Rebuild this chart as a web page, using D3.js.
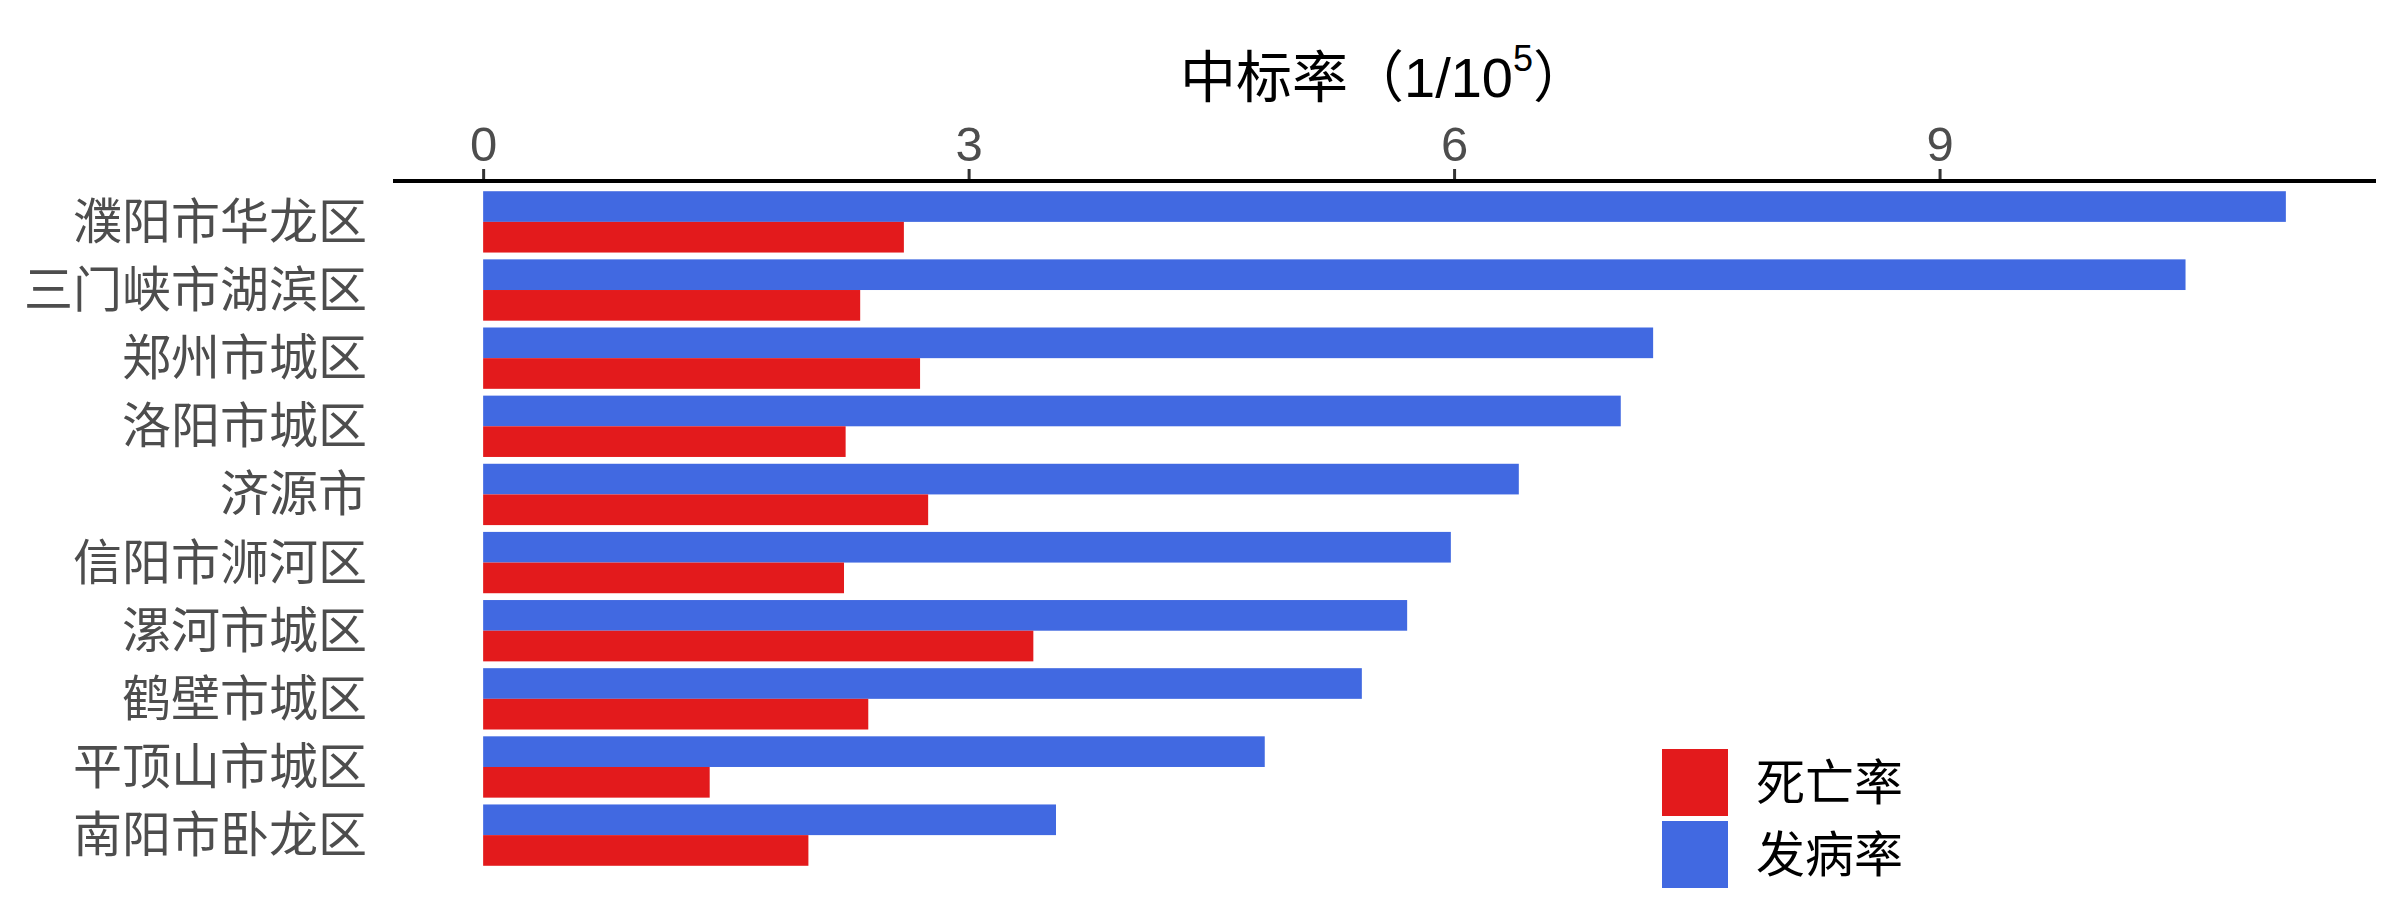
<!DOCTYPE html>
<html>
<head>
<meta charset="utf-8">
<script src="https://cdn.jsdelivr.net/npm/d3@7"></script>
<style>
  body { margin: 0; background: #fff; }
  text { font-family: "Liberation Sans", "Noto Sans CJK SC", sans-serif; }
</style>
</head>
<body>
<div id="chart"></div>
<script>
// Data (rate per 100,000)
const regions = ["濮阳市华龙区", "三门峡市湖滨区", "郑州市城区", "洛阳市城区", "济源市",
                 "信阳市浉河区", "漯河市城区", "鹤壁市城区", "平顶山市城区", "南阳市卧龙区"];
const incidence = [11.14, 10.52, 7.23, 7.03, 6.40, 5.98, 5.71, 5.43, 4.83, 3.54];
const mortality = [2.60, 2.33, 2.70, 2.24, 2.75, 2.23, 3.40, 2.38, 1.40, 2.01];
const seriesNames = ["发病率", "死亡率"];
const legendOrder = ["死亡率", "发病率"];
const xTicks = [0, 3, 6, 9];

const width = 2400, height = 900;
const panel = { left: 393, right: 2376, top: 181, bottom: 876 };

const svg = d3.select("#chart")
    .append("svg")
    .attr("width", width)
    .attr("height", height);

// Build rows for the bars
const rows = [];
regions.forEach((r, i) => {
    rows.push({ region: r, series: "发病率", value: incidence[i] });
    rows.push({ region: r, series: "死亡率", value: mortality[i] });
});

// Scales (ggplot-style 5% expansion)
const maxVal = d3.max(rows, d => d.value);
const x = d3.scaleLinear()
    .domain([-0.05 * maxVal, maxVal * 1.05])
    .range([panel.left, panel.right]);

const y0 = d3.scaleBand()
    .domain(regions)
    .range([panel.top, panel.bottom])
    .paddingInner(0.1)
    .paddingOuter(0.15);

const y1 = d3.scaleBand()
    .domain(seriesNames)
    .range([0, y0.bandwidth()]);

const color = d3.scaleOrdinal()
    .domain(seriesNames)
    .range(["#4169E1", "#E31A1C"]);

// Bars
svg.append("g")
    .selectAll("rect")
    .data(rows)
    .enter()
    .append("rect")
    .attr("x", x(0))
    .attr("y", d => y0(d.region) + y1(d.series))
    .attr("width", d => x(d.value) - x(0))
    .attr("height", y1.bandwidth())
    .attr("fill", d => color(d.series));

// Top axis
const xAxis = svg.append("g")
    .attr("transform", `translate(0,${panel.top})`)
    .call(d3.axisTop(x).tickValues(xTicks).tickSize(12).tickPadding(8));

xAxis.select(".domain").remove();
xAxis.selectAll(".tick line")
    .attr("stroke", "#333333")
    .attr("stroke-width", 3);
xAxis.selectAll(".tick text")
    .attr("fill", "#4D4D4D")
    .style("font-size", "49px");

svg.append("line")
    .attr("x1", panel.left)
    .attr("x2", panel.right)
    .attr("y1", panel.top)
    .attr("y2", panel.top)
    .attr("stroke", "black")
    .attr("stroke-width", 4);

// Axis title
const title = svg.append("text")
    .attr("x", (panel.left + panel.right) / 2)
    .attr("y", 97)
    .attr("text-anchor", "middle")
    .attr("fill", "black")
    .style("font-size", "56px");
title.append("tspan").text("中标率（1/10");
title.append("tspan").attr("dy", -26).style("font-size", "36px").text("5");
title.append("tspan").attr("dy", 26).text("）");

// Region labels
svg.append("g")
    .selectAll("text")
    .data(regions)
    .enter()
    .append("text")
    .attr("x", 367)
    .attr("y", d => y0(d) + y0.bandwidth() / 2)
    .attr("text-anchor", "end")
    .attr("dominant-baseline", "central")
    .attr("fill", "#4D4D4D")
    .style("font-size", "49px")
    .text(d => d);

// Legend
const legend = svg.append("g")
    .attr("transform", "translate(1662,749)");

legendOrder.forEach((name, i) => {
    legend.append("rect")
        .attr("x", 0)
        .attr("y", i * 72)
        .attr("width", 66)
        .attr("height", 67)
        .attr("fill", color(name));

    legend.append("text")
        .attr("x", 94)
        .attr("y", i * 72 + 34)
        .attr("dominant-baseline", "central")
        .attr("fill", "black")
        .style("font-size", "49px")
        .text(name);
});
</script>
</body>
</html>
